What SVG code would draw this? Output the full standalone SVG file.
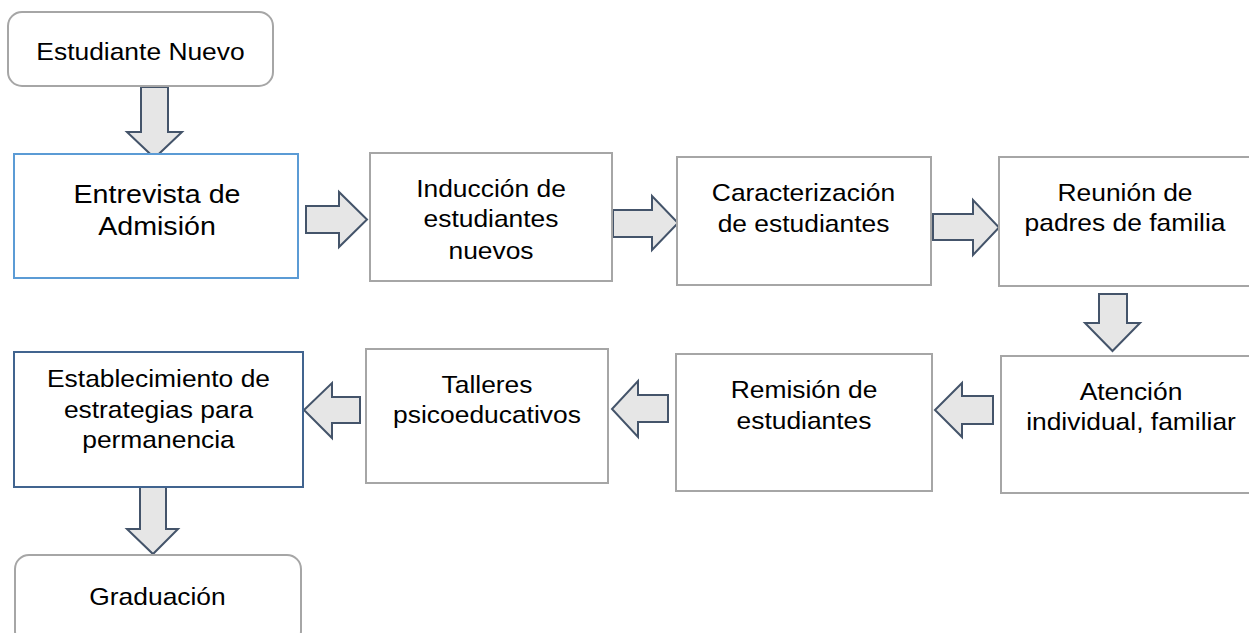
<svg xmlns="http://www.w3.org/2000/svg" width="1249" height="633" viewBox="0 0 1249 633">
<style>
.box{fill:#fff;stroke:#a6a6a6;stroke-width:2}
.blue{fill:#fff;stroke:#5b9bd5;stroke-width:2}
.dblue{fill:#fff;stroke:#41648f;stroke-width:2}
.arr{fill:#e6e6e6;stroke:#44546a;stroke-width:2;stroke-linejoin:miter}
.t{font-family:"Liberation Sans",Arial,sans-serif;font-size:24px;fill:#000;text-anchor:middle}
.tl{font-family:"Liberation Sans",Arial,sans-serif;font-size:26px;fill:#000;text-anchor:middle}
</style>
<rect width="1249" height="633" fill="#fff"/>
<g id="connectors">
<polygon class="arr" points="141,87 168,87 168,132 182,132 154.5,158 127,132 141,132"/>
<polygon class="arr" points="306,206 339,206 339,192 367,219.5 339,247 339,233 306,233"/>
<polygon class="arr" points="613,210 652,210 652,196 678,223 652,250 652,237 613,237"/>
<polygon class="arr" points="933,214 973,214 973,200 999,227.5 973,255 973,240 933,240"/>
<polygon class="arr" points="1099,294 1127,294 1127,323 1140,323 1112.5,351 1085,323 1099,323"/>
<polygon class="arr" points="993,396 993,424 962,424 962,437 935,410 962,383 962,396"/>
<polygon class="arr" points="668,395 668,422 638,422 638,437 612,409 638,381 638,395"/>
<polygon class="arr" points="360,397 360,423 332,423 332,438 304,410 332,383 332,397"/>
<polygon class="arr" points="140,487 166,487 166,529 178,529 153,554 127,529 140,529"/>
</g>
<g id="n1">
<rect class="box" x="8" y="12" width="265" height="74" rx="14"/>
<text class="t" transform="translate(140.5 0) scale(1.1 1)"><tspan x="0" y="60.5">Estudiante Nuevo</tspan></text>
</g>
<g id="n2">
<rect class="blue" x="14" y="154" width="284" height="124"/>
<text class="tl" transform="translate(157 0) scale(1.1 1)"><tspan x="0" y="203">Entrevista de</tspan><tspan x="0" y="235">Admisión</tspan></text>
</g>
<g id="n3">
<rect class="box" x="370" y="153" width="242" height="128"/>
<text class="t" transform="translate(491 0) scale(1.1 1)"><tspan x="0" y="197">Inducción de</tspan><tspan x="0" y="227.5">estudiantes</tspan><tspan x="0" y="259.5">nuevos</tspan></text>
</g>
<g id="n4">
<rect class="box" x="677" y="157" width="254" height="128"/>
<text class="t" transform="translate(803.5 0) scale(1.1 1)"><tspan x="0" y="201">Caracterización</tspan><tspan x="0" y="232">de estudiantes</tspan></text>
</g>
<g id="n5">
<rect class="box" x="999" y="157" width="262" height="129"/>
<text class="t" transform="translate(1125 0) scale(1.1 1)"><tspan x="0" y="201.5">Reunión de</tspan><tspan x="0" y="231">padres de familia</tspan></text>
</g>
<g id="n6">
<rect class="box" x="1001" y="356" width="262" height="137"/>
<text class="t" transform="translate(1131 0) scale(1.1 1)"><tspan x="0" y="400">Atención</tspan><tspan x="0" y="430">individual, familiar</tspan></text>
</g>
<g id="n7">
<rect class="box" x="676" y="354" width="256" height="137"/>
<text class="t" transform="translate(804 0) scale(1.1 1)"><tspan x="0" y="398">Remisión de</tspan><tspan x="0" y="429">estudiantes</tspan></text>
</g>
<g id="n8">
<rect class="box" x="366" y="349" width="242" height="134"/>
<text class="t" transform="translate(487 0) scale(1.1 1)"><tspan x="0" y="393">Talleres</tspan><tspan x="0" y="423">psicoeducativos</tspan></text>
</g>
<g id="n9">
<rect class="dblue" x="14" y="352" width="289" height="135"/>
<text class="t" transform="translate(158.5 0) scale(1.1 1)"><tspan x="0" y="387">Establecimiento de</tspan><tspan x="0" y="418">estrategias para</tspan><tspan x="0" y="448">permanencia</tspan></text>
</g>
<g id="n10">
<rect class="box" x="15" y="555" width="286" height="90" rx="14"/>
<text class="t" transform="translate(157.5 0) scale(1.1 1)"><tspan x="0" y="605">Graduación</tspan></text>
</g>
</svg>
